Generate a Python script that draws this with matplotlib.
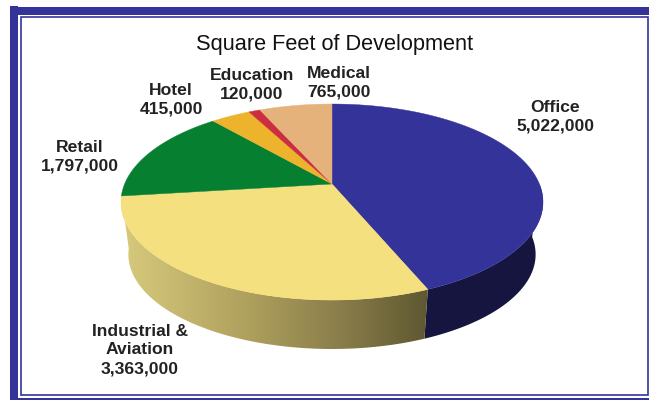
import numpy as np
import matplotlib
matplotlib.use('Agg')
import matplotlib.pyplot as plt
from matplotlib.patches import Rectangle, Polygon

plt.rcParams['font.family'] = ['Liberation Sans', 'DejaVu Sans']

names = ['Office', 'Industrial &\nAviation', 'Retail', 'Hotel', 'Education', 'Medical']
values = [5022000, 3363000, 1797000, 415000, 120000, 765000]
colors = ['#333399', '#f4e07f', '#068030', '#eeb32c', '#cc2e41', '#e6b27c']
label_pos = [(555, 117), (140, 350), (80, 157), (171, 100), (252, 85), (339, 83)]

blue = '#333399'

# pie centre and perspective of the disc, in pixels
cx, cy = 332, 184
a, b, k = 207.4, 94.7, 0.184
# lower rim of the disc
shrink, drop = 0.965, 53


def rim(t, lower=False):
    # t is degrees clockwise from 12 o'clock
    t = np.radians(t)
    u, v = np.sin(t), np.cos(t)
    x = a * u / (1 + k * v)
    y = b * v / (1 + k * v)
    if lower:
        x, y = x * shrink, y * shrink - drop
    return cx + x, cy - y


fig = plt.figure(figsize=(6.49, 4.0), dpi=100)
ax = fig.add_axes([0, 0, 1, 1])
ax.set_xlim(0, 649)
ax.set_ylim(400, 0)
ax.axis('off')

# frame
ax.add_patch(Rectangle((10, 7), 639, 8, color=blue, lw=0))
ax.add_patch(Rectangle((10, 6), 8, 394, color=blue, lw=0))
ax.add_patch(Rectangle((21, 17), 627, 378, fill=False, ec=blue, lw=1.2))
ax.add_patch(Rectangle((18, 398), 631, 2, color=blue, lw=0))

angles = np.cumsum([0] + values) / sum(values) * 360

# side wall, only the two front slices show
t = np.linspace(angles[0] + 90, angles[1], 80)
x1, y1 = rim(t)
x2, y2 = rim(t[::-1], True)
ax.fill(np.r_[x1, x2], np.r_[y1, y2], color='#15153f', lw=0)

t = np.linspace(angles[1], angles[2], 120)
x1, y1 = rim(t)
x2, y2 = rim(t[::-1], True)
side = Polygon(np.c_[np.r_[x1, x2], np.r_[y1, y2]], closed=True, fc='none', ec='none', transform=ax.transData)
ax.add_patch(side)
shade = np.array([[0xd8, 0xca, 0x7c], [0xb0, 0xa2, 0x5e], [0x85, 0x79, 0x48], [0x5e, 0x57, 0x30]]) / 255
pos = np.linspace(0, 1, 300)
grad = np.stack([np.interp(pos, [0, .4, .75, 1], shade[:, i]) for i in range(3)], axis=1)[None, :, :]
im = ax.imshow(grad, extent=(x1.min(), x1.max(), 360, 180), aspect='auto', interpolation='bilinear', zorder=2)
im.set_clip_path(side)
ax.set_xlim(0, 649)
ax.set_ylim(400, 0)

# top face
for i, c in enumerate(colors):
    t = np.linspace(angles[i], angles[i + 1], 100)
    x, y = rim(t)
    ax.fill(np.r_[cx, x], np.r_[cy, y], color=c, lw=0.3, zorder=3)

ax.text(335, 44.5, 'Square Feet of Development', ha='center', va='center', fontsize=15.7, color='#111111')
for n, v, (lx, ly) in zip(names, values, label_pos):
    ax.text(lx, ly, n + '\n' + format(v, ','), ha='center', va='center', fontsize=12.6,
            fontweight='bold', color='#222222', linespacing=1.3)

fig.savefig('out.png', dpi=100)
